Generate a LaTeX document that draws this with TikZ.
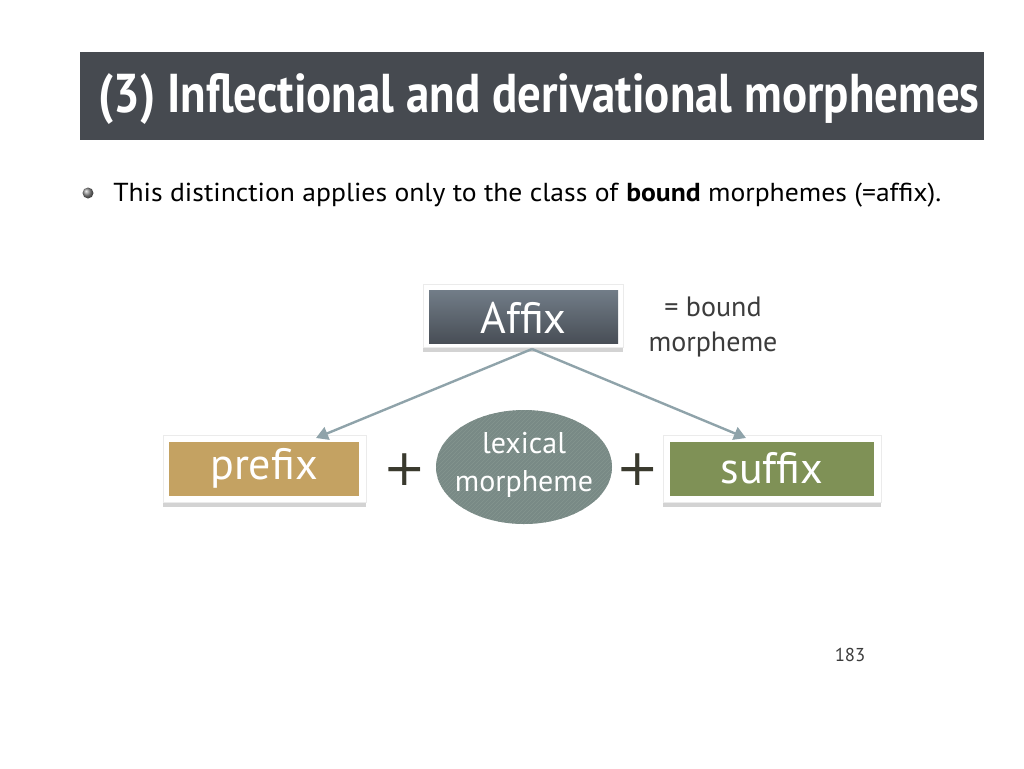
\documentclass[tikz,border=0pt]{standalone}
\usepackage{fontspec}
\setmainfont{PT Sans}
\newfontfamily\plusfont{DejaVu Sans}
\usepackage{tikz}
\usetikzlibrary{calc,patterns,shadows,arrows.meta}

\definecolor{titlebg}{HTML}{464A50}
\definecolor{affixtop}{HTML}{727D88}
\definecolor{affixbot}{HTML}{484E56}
\definecolor{prefixcol}{HTML}{C4A262}
\definecolor{suffixcol}{HTML}{7F9156}
\definecolor{lexcol}{HTML}{798A86}
\definecolor{lexline}{HTML}{85958F}
\definecolor{arrowcol}{HTML}{8FA3AA}
\definecolor{pluscol}{HTML}{3A3A2E}
\definecolor{textcol}{HTML}{3C3C3C}

\tikzset{
    frame/.style={fill=white, draw=black!8, drop shadow={opacity=0.35, shadow xshift=0pt, shadow yshift=-4pt}},
    boxtext/.style={text=white, font=\fontsize{33}{33}\selectfont},
    link/.style={draw=arrowcol, line width=1.8pt, -{Triangle[length=9pt,width=10pt]}},
    plus/.style={text=pluscol, font=\plusfont\fontsize{38}{38}\selectfont}
}

\begin{document}
\begin{tikzpicture}[x=0.75pt,y=-0.75pt]
    \useasboundingbox (0,0) rectangle (1024,768);
    % title bar
    \fill[titlebg] (80,52) rectangle (984,140);
    \node[anchor=base west, text=white, inner sep=0] (title) at (98,112)
        {\resizebox{661pt}{\height}{\fontsize{41}{41}\selectfont\bfseries (3) Inflectional and derivational morphemes}};
    % bullet line
    \shade[ball color=black!45] (88,193) circle (5.5);
    \node[anchor=base west, inner sep=0] (line) at (113,201)
        {\resizebox{621pt}{\height}{\fontsize{19.5}{20}\selectfont This distinction applies only to the class of \textbf{bound} morphemes (=affix).}};
    % boxes
    \draw[frame] (423,284) rectangle (623,347);
    \shade[top color=affixtop, bottom color=affixbot] (429,290) rectangle (618,343);
    \node[boxtext] (affix) at (523.5,318) {Affix};
    \node[text=textcol, align=center, font=\fontsize{21}{26}\selectfont] (bound) at (713,327) {= bound\\morpheme};
    \draw[frame] (163,435) rectangle (366,502);
    \fill[prefixcol] (169,442) rectangle (359,496);
    \node[boxtext] (prefix) at (264,468) {prefix};
    \draw[frame] (663,435) rectangle (881,502);
    \fill[suffixcol] (670,442) rectangle (874,496);
    \node[boxtext] (suffix) at (772,468) {suffix};
    % lexical morpheme
    \fill[lexcol] (524,467) ellipse (88 and 57);
    \fill[pattern=north east lines, pattern color=lexline] (524,467) ellipse (88 and 57);
    \node[text=white, align=center, font=\fontsize{22.5}{28}\selectfont] (lex) at (524,465) {lexical\\morpheme};
    \node[plus] (plusA) at (405,470) {+};
    \node[plus] (plusB) at (638,470) {+};
    % arrows
    \coordinate (top) at (532,349);
    \coordinate (pre) at (316,438);
    \coordinate (suf) at (746,438);
    \draw[link] (top) -- (pre);
    \draw[link] (top) -- (suf);
    % page number
    \node[text=textcol, font=\fontsize{14}{14}\selectfont] (page) at (850,655) {183};
\end{tikzpicture}
\end{document}
